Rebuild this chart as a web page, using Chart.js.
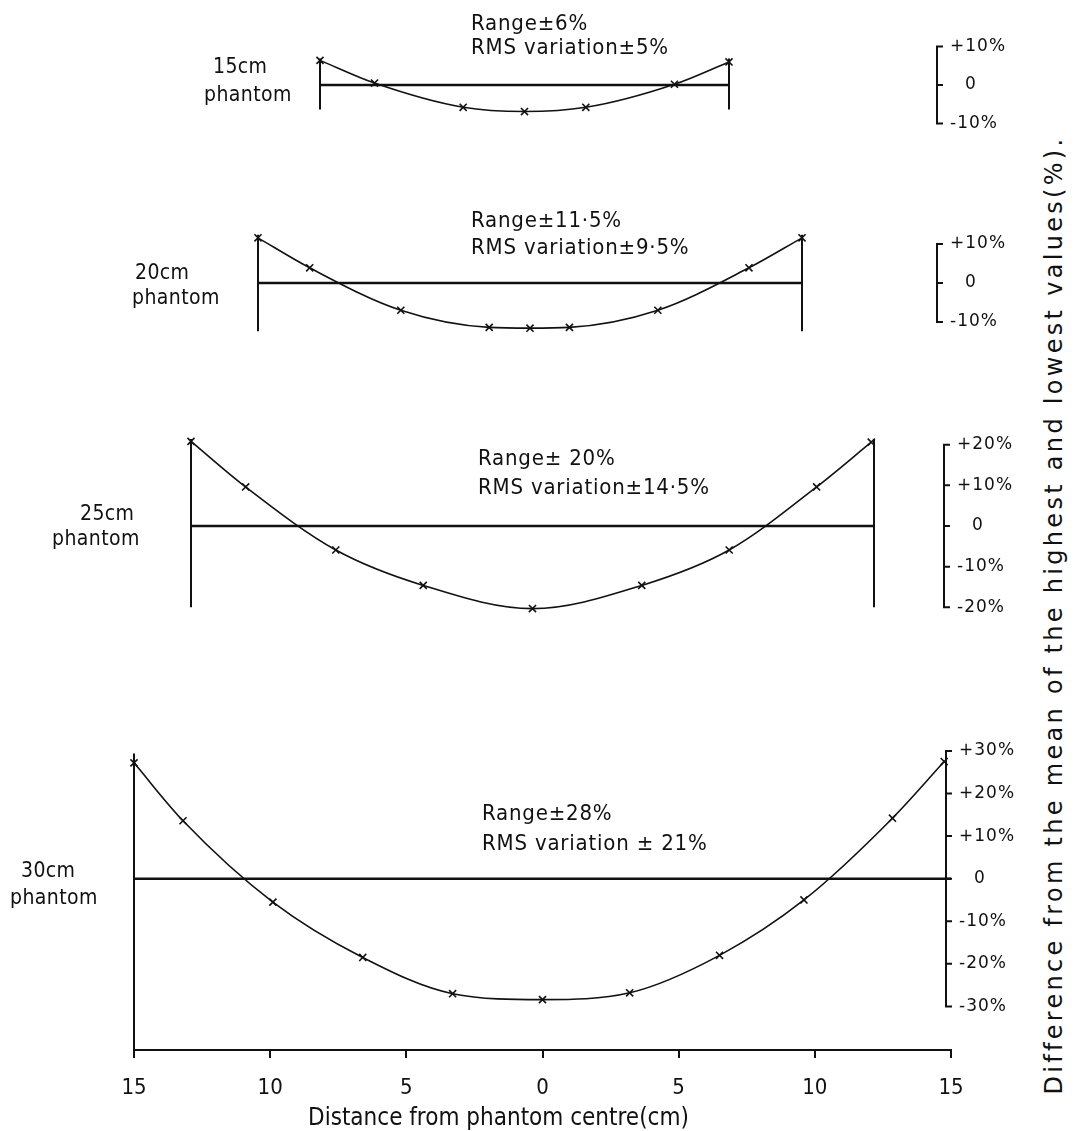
<!DOCTYPE html>
<html>
<head>
<meta charset="utf-8">
<script src="https://cdn.jsdelivr.net/npm/chart.js@4.4.1/dist/chart.umd.min.js"></script>
<style>
  body { margin: 0; background: #fff; }
  #page { position: relative; width: 1087px; height: 1131px; overflow: hidden; background: #fff; }
  #page canvas { position: absolute; left: 0; }
  .txt {
    position: absolute;
    font-family: 'DejaVu Sans Condensed', 'DejaVu Sans', sans-serif;
    font-size: 22px;
    letter-spacing: 0.8px;
    line-height: 24px;
    color: #111;
    white-space: nowrap;
  }
  .txt.name { font-size: 21px; letter-spacing: 0.4px; }
  .txt.axis { font-size: 24px; letter-spacing: 0; line-height: 28px; }
  #ytitle {
    position: absolute;
    left: 1054px;
    top: 615px;
    transform: translate(-50%, -50%) rotate(-90deg);
    font-family: 'DejaVu Sans', sans-serif;
    font-size: 24px;
    letter-spacing: 3.3px;
    color: #111;
    white-space: nowrap;
  }
</style>
</head>
<body>
<div id="page">
  <div id="ytitle">Difference from the mean of the highest and lowest values(%).</div>
</div>
<script>
// Values (distance in cm, difference in %)
const phantomNames = ['15cm', '20cm', '25cm', '30cm'];
const rangeLabels = ['Range\u00b16%', 'Range\u00b111\u00b75%', 'Range\u00b1 20%', 'Range\u00b128%'];
const rmsLabels = ['RMS variation\u00b15%', 'RMS variation\u00b19\u00b75%', 'RMS variation\u00b114\u00b75%', 'RMS variation \u00b1 21%'];
const xTitle = 'Distance from phantom centre(cm)';

const halfWidths = [7.5, 10, 12.5, 15];

const dist15 = [-7.5, -5.5, -2.25, 0, 2.25, 5.5, 7.5];
const diff15 = [6.4, 0.5, -5.8, -6.9, -5.8, 0.2, 6.0];

const dist20 = [-10, -8.1, -4.75, -1.5, 0, 1.45, 4.7, 8.05, 10];
const diff20 = [11.6, 3.9, -7.0, -11.4, -11.6, -11.4, -7.0, 3.9, 11.6];

const dist25 = [-12.5, -10.5, -7.2, -4, 0, 4, 7.2, 10.4, 12.4];
const diff25 = [20.8, 9.6, -5.9, -14.6, -20.3, -14.6, -5.9, 9.6, 20.6];

const dist30 = [-15, -13.2, -9.9, -6.6, -3.3, 0, 3.2, 6.5, 9.6, 12.85, 14.75];
const diff30 = [27.2, 13.6, -5.5, -18.5, -27.0, -28.4, -26.8, -18.0, -5.0, 14.2, 27.5];

const distances = [dist15, dist20, dist25, dist30];
const differences = [diff15, diff20, diff25, diff30];

// end lines of each phantom trace
const edgeTop = [6.9, 12.4, 21.4, 29.4];
const edgeBottom = [-6.4, -12.4, -20, -40.23];

const scaleTicks = [
    [10, 0, -10],
    [10, 0, -10],
    [20, 10, 0, -10, -20],
    [30, 20, 10, 0, -10, -20, -30]
];
const distanceTicks = [-15, -10, -5, 0, 5, 10, 15];

// page layout (pixels)
const PX_PER_PCT = 4.35;
const panels = [
    { top: 28, bottom: 142, zero: 85, left: 320, right: 729, bracketX: 937,
      name: [[213, 66], [204, 94]], text: [471, 23, 47] },
    { top: 220, bottom: 346, zero: 283, left: 258, right: 802, bracketX: 937,
      name: [[135, 272], [132, 297]], text: [471, 220, 247] },
    { top: 424, bottom: 628, zero: 526, left: 191, right: 874, bracketX: 944,
      name: [[80, 513], [52, 538]], text: [478, 458, 487] },
    { top: 736, bottom: 1050, zero: 875, left: 134, right: 951, bracketX: 946,
      name: [[21, 870], [10, 897]], text: [482, 813, 843], axis: true }
];
const AXIS_HEIGHT = 81;

const page = document.getElementById('page');
const INK = '#111';

function addText(str, x, yCenter, cls) {
    const d = document.createElement('div');
    d.className = 'txt' + (cls ? ' ' + cls : '');
    d.textContent = str;
    d.style.left = x + 'px';
    d.style.top = (yCenter - (cls === 'axis' ? 14 : 12)) + 'px';
    page.appendChild(d);
}

function pctLabel(v) {
    if (v === 0) return '0';
    return (v > 0 ? '+' : '-') + Math.abs(v) + '%';
}

// draws the little percentage scale to the right of every trace
const bracketPlugin = {
    id: 'bracket',
    afterDatasetsDraw(chart, args, opts) {
        const y = chart.scales.y;
        const ctx = chart.ctx;
        const ticks = opts.ticks;
        const x = opts.x;
        ctx.save();
        ctx.strokeStyle = INK;
        ctx.lineWidth = 2;
        ctx.beginPath();
        ctx.moveTo(x, y.getPixelForValue(ticks[0]));
        ctx.lineTo(x, y.getPixelForValue(ticks[ticks.length - 1]));
        ticks.forEach(v => {
            const py = y.getPixelForValue(v);
            ctx.moveTo(x - 1, py);
            ctx.lineTo(x + 6, py);
        });
        ctx.stroke();

        ctx.fillStyle = INK;
        ctx.font = '17px "DejaVu Sans", sans-serif';
        ctx.letterSpacing = '1px';
        ctx.textBaseline = 'middle';
        ticks.forEach(v => {
            const py = y.getPixelForValue(v);
            if (v === 0) {
                ctx.textAlign = 'center';
                ctx.fillText('0', x + 34, py);
            } else {
                ctx.textAlign = 'left';
                ctx.fillText(pctLabel(v), x + 13, py);
            }
        });
        ctx.restore();
    }
};

function lineSet(points, width) {
    return {
        data: points,
        showLine: true,
        borderColor: INK,
        borderWidth: width,
        pointRadius: 0,
        clip: false
    };
}

panels.forEach((p, i) => {
    const h = halfWidths[i];
    const canvasBottom = p.axis ? 1131 : p.bottom;
    const chartBottom = p.bottom;
    const height = canvasBottom - p.top;

    const canvas = document.createElement('canvas');
    canvas.width = 1087;
    canvas.height = height;
    canvas.style.top = p.top + 'px';
    page.appendChild(canvas);

    const yMax = (p.zero - p.top) / PX_PER_PCT;
    const yMin = -(chartBottom - p.zero) / PX_PER_PCT;

    const curve = distances[i].map((d, k) => ({ x: d, y: differences[i][k] }));

    const datasets = [
        {
            data: curve,
            showLine: true,
            borderColor: INK,
            borderWidth: 1.6,
            cubicInterpolationMode: 'monotone',
            pointStyle: 'crossRot',
            pointRadius: 5,
            pointBorderWidth: 1.6,
            pointBorderColor: INK,
            pointBackgroundColor: INK,
            clip: false
        },
        lineSet([{ x: -h, y: 0 }, { x: h, y: 0 }], 2.6),
        lineSet([{ x: -h, y: edgeTop[i] }, { x: -h, y: edgeBottom[i] }], 2)
    ];
    if (!p.axis) {
        datasets.push(lineSet([{ x: h, y: edgeTop[i] }, { x: h, y: edgeBottom[i] }], 2));
    }

    const xScale = p.axis ? {
        type: 'linear',
        min: -h,
        max: h,
        afterBuildTicks: s => { s.ticks = distanceTicks.map(v => ({ value: v })); },
        afterFit: s => { s.height = AXIS_HEIGHT; },
        ticks: {
            color: INK,
            padding: 17,
            font: { family: "'DejaVu Sans Condensed', 'DejaVu Sans', sans-serif", size: 22 },
            maxRotation: 0,
            callback: v => Math.abs(v)
        },
        grid: { drawOnChartArea: false, drawTicks: true, tickLength: 8, color: INK, lineWidth: 2 },
        border: { display: true, color: INK, width: 2 }
    } : { type: 'linear', display: false, min: -h, max: h };

    new Chart(canvas, {
        type: 'scatter',
        data: { datasets },
        options: {
            responsive: false,
            animation: false,
            devicePixelRatio: 1,
            layout: { padding: { left: p.left, right: 1087 - p.right, top: 0, bottom: 0 } },
            scales: {
                x: xScale,
                y: { type: 'linear', display: false, min: yMin, max: yMax }
            },
            plugins: {
                legend: { display: false },
                tooltip: { enabled: false },
                bracket: { x: p.bracketX, ticks: scaleTicks[i] }
            }
        },
        plugins: [bracketPlugin]
    });

    addText(phantomNames[i], p.name[0][0], p.name[0][1], 'name');
    addText('phantom', p.name[1][0], p.name[1][1], 'name');
    addText(rangeLabels[i], p.text[0], p.text[1]);
    addText(rmsLabels[i], p.text[0], p.text[2]);
});

// x axis title sits left of centre in the original
addText(xTitle, 308, 1117, 'axis');
</script>
</body>
</html>
